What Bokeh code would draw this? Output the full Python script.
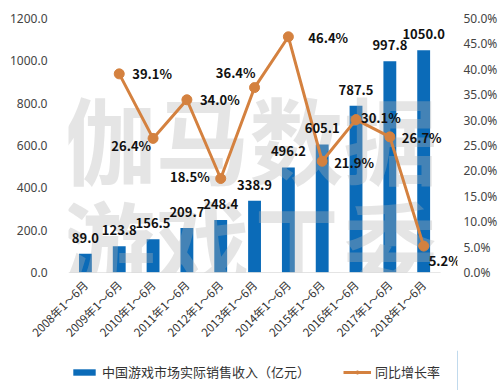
from bokeh.plotting import figure
from bokeh.models import (ColumnDataSource, Range1d, LinearAxis, PrintfTickFormatter,
                          Legend, LegendItem, SingleIntervalTicker, FixedTicker)
from bokeh.layouts import column
from bokeh.core.properties import value
from bokeh.embed import file_html
from bokeh.resources import INLINE
import math

categories = ["2008年1～6月", "2009年1～6月", "2010年1～6月", "2011年1～6月", "2012年1～6月",
              "2013年1～6月", "2014年1～6月", "2015年1～6月", "2016年1～6月", "2017年1～6月",
              "2018年1～6月"]
revenue = [89.0, 123.8, 156.5, 209.7, 248.4, 338.9, 496.2, 605.1, 787.5, 997.8, 1050.0]
growth = [39.1, 26.4, 34.0, 18.5, 36.4, 46.4, 21.9, 30.1, 26.7, 5.2]   # 2009..2018
bar_name = "中国游戏市场实际销售收入（亿元）"
line_name = "同比增长率"
watermark = ["伽马数据", "游戏工委"]

idx = list(range(len(categories)))
growth_x = idx[1:]

# label placement offsets (pixels) for growth labels
g_dx = [13, -2, 13, -11, 1, 20, 12, 5, 12, 5]
g_dy = [0, 7, 0, -2, -15, 1, 1, -2, 1, 14]
g_align = ["left", "right", "left", "right", "right", "left", "left", "left", "left", "left"]

BLUE = "#0B6BB8"
ORANGE = "#D4813F"
FONT = "Noto Sans CJK SC"
TICKFONT = "Noto Sans"

n = len(categories)
p = figure(width=500, height=350, x_range=Range1d(-0.5, n), y_range=Range1d(0, 1200),
           output_backend="svg", toolbar_location=None,
           min_border_left=68, min_border_right=36, min_border_top=18, min_border_bottom=78)
p.outline_line_color = None
p.xgrid.grid_line_color = None
p.ygrid.grid_line_color = None
p.extra_y_ranges = {"pct": Range1d(0, 50)}

bsrc = ColumnDataSource(dict(x=idx, y=revenue, lab=[f"{v:.1f}" for v in revenue]))
bars = p.vbar(x="x", top="y", width=0.38, source=bsrc, fill_color=BLUE, line_color=None)

# baseline under the categories
p.segment(x0=[-0.5], x1=[n - 0.5], y0=[0], y1=[0], line_color="#d0d0d0", line_width=1)

# watermark
wm = ColumnDataSource(dict(x=[4.85, 4.85], y=[638, 151], t=watermark))
p.text(x="x", y="y", text="t", source=wm, text_font=value(FONT), text_font_size="94px",
       text_font_style="bold", text_color="#b4b4b4", text_alpha=0.34,
       text_align="center", text_baseline="middle")

lsrc = ColumnDataSource(dict(x=growth_x, y=growth, lab=[f"{v:.1f}%" for v in growth],
                             dx=g_dx, dy=g_dy, al=g_align))
ln = p.line(x="x", y="y", source=lsrc, y_range_name="pct", line_color=ORANGE, line_width=3)
mk = p.scatter(x="x", y="y", source=lsrc, y_range_name="pct", size=10,
               fill_color=ORANGE, line_color=ORANGE)

p.text(x="x", y="y", text="lab", source=bsrc, text_font=value(FONT), text_font_size="13px",
       text_font_style="bold", text_color="#111111", text_align="center",
       text_baseline="middle", y_offset=-16)
p.text(x="x", y="y", text="lab", source=lsrc, y_range_name="pct", text_font=value(FONT),
       text_font_size="13px", text_font_style="bold", text_color="#111111",
       text_align="al", text_baseline="middle", x_offset="dx", y_offset="dy")

# axes
p.yaxis.ticker = SingleIntervalTicker(interval=200)
p.yaxis.formatter = PrintfTickFormatter(format="%.1f")
ax_r = LinearAxis(y_range_name="pct", ticker=SingleIntervalTicker(interval=5),
                  formatter=PrintfTickFormatter(format="%.1f%%"))
p.add_layout(ax_r, "right")
for ax in [p.yaxis[0], ax_r]:
    ax.axis_line_color = None
    ax.major_tick_line_color = None
    ax.minor_tick_line_color = None
    ax.major_label_text_font = TICKFONT
    ax.major_label_text_font_size = "12px"
    ax.major_label_text_color = "#444444"
p.yaxis[0].major_label_standoff = 15
ax_r.major_label_standoff = 0

p.xaxis.ticker = FixedTicker(ticks=idx)
p.xaxis.major_label_overrides = {i: c for i, c in zip(idx, categories)}
p.xaxis.axis_line_color = None
p.xaxis.major_tick_line_color = None
p.xaxis.minor_tick_line_color = None
p.xaxis.major_label_orientation = math.pi / 4
p.xaxis.major_label_text_font = FONT
p.xaxis.major_label_text_font_size = "11.5px"
p.xaxis.major_label_text_color = "#333333"
p.xaxis.major_label_standoff = 4

# legend strip below the chart (its frame is aligned with the main frame, left edge x=68)
lg = figure(width=500, height=40, x_range=Range1d(0, 1), y_range=Range1d(0, 1),
            output_backend="svg", toolbar_location=None,
            x_axis_location=None, y_axis_location=None,
            min_border_left=0, min_border_right=0, min_border_top=0, min_border_bottom=0)
lg.grid.visible = False
lg.outline_line_color = None
dummy_bar = lg.vbar(x=[5], top=[1], width=0.1, fill_color=BLUE, line_color=None)
dummy_ln = lg.line(x=[5, 6], y=[0.5, 0.5], line_color=ORANGE, line_width=3)
dummy_mk = lg.scatter(x=[5.5], y=[0.5], size=8, fill_color=ORANGE, line_color=ORANGE)
legend = Legend(items=[LegendItem(label=bar_name, renderers=[dummy_bar]),
                       LegendItem(label=line_name, renderers=[dummy_ln, dummy_mk])],
                orientation="horizontal", location=(2, 9),
                glyph_width=28, glyph_height=8, label_height=14, label_standoff=4,
                spacing=33, padding=0, margin=0, border_line_color=None,
                background_fill_alpha=0,
                label_text_font=FONT, label_text_font_size="13px", label_text_color="#333333")
lg.add_layout(legend, "center")

layout = column(p, lg, spacing=0)
open("out.html", "w").write(file_html(layout, INLINE))
